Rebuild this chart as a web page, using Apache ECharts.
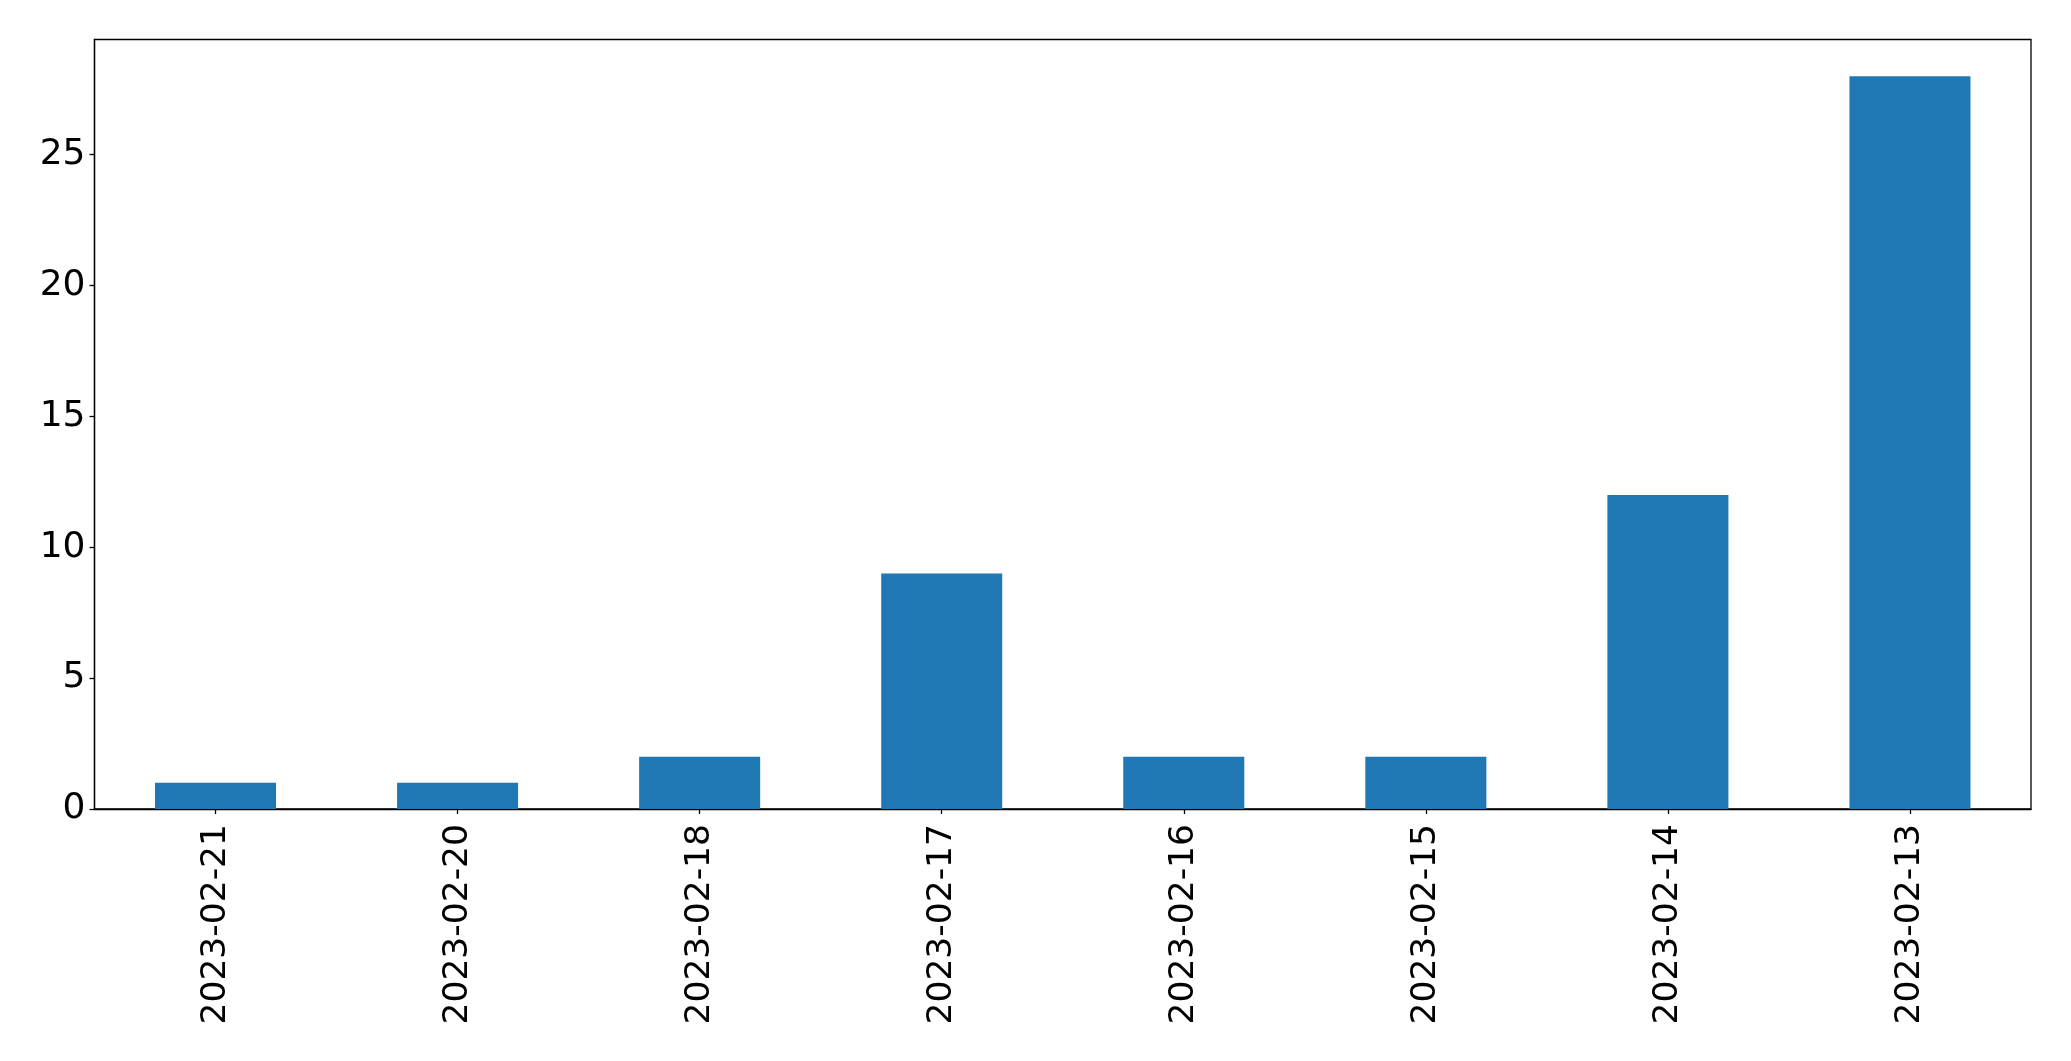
<!DOCTYPE html>
<html><head><meta charset="utf-8">
<script src="https://cdn.jsdelivr.net/npm/echarts@6/dist/echarts.min.js"></script>
<style>html,body{margin:0;padding:0;background:#fff}#c{width:2071px;height:1061px}</style>
</head><body><div id="c"></div>
<script>
const categories = ["2023-02-21","2023-02-20","2023-02-18","2023-02-17","2023-02-16","2023-02-15","2023-02-14","2023-02-13"];
const values = [1, 1, 2, 9, 2, 2, 12, 28];
const yTicks = [0, 5, 10, 15, 20, 25];

const chart = echarts.init(document.getElementById('c'), null, {renderer: 'canvas'});
const font = 'DejaVu Sans';
chart.setOption({
  animation: false,
  backgroundColor: '#fff',
  grid: {left: 94.5, right: 40, top: 39.5, bottom: 252, show: true, borderColor: '#000', borderWidth: 1.3, backgroundColor: 'transparent'},
  xAxis: {
    type: 'category', data: categories,
    axisLine: {show: true, lineStyle: {color: '#000', width: 1.3}},
    axisTick: {show: true, alignWithLabel: true, length: 5, lineStyle: {color: '#000', width: 1.3}},
    axisLabel: {rotate: 90, margin: 15, color: '#000', fontFamily: font, fontSize: 34.5, interval: 0}
  },
  yAxis: {
    type: 'value', min: 0, max: 29.4, interval: 5,
    splitLine: {show: false},
    axisLine: {show: true, lineStyle: {color: '#000', width: 1.3}},
    axisTick: {show: true, length: 5, lineStyle: {color: '#000', width: 1.3}, customValues: yTicks},
    axisLabel: {margin: 9, color: '#000', fontFamily: font, fontSize: 36, customValues: yTicks}
  },
  series: [{type: 'bar', data: values, barWidth: '50%', itemStyle: {color: '#1f77b4'}}]
});
</script></body></html>
